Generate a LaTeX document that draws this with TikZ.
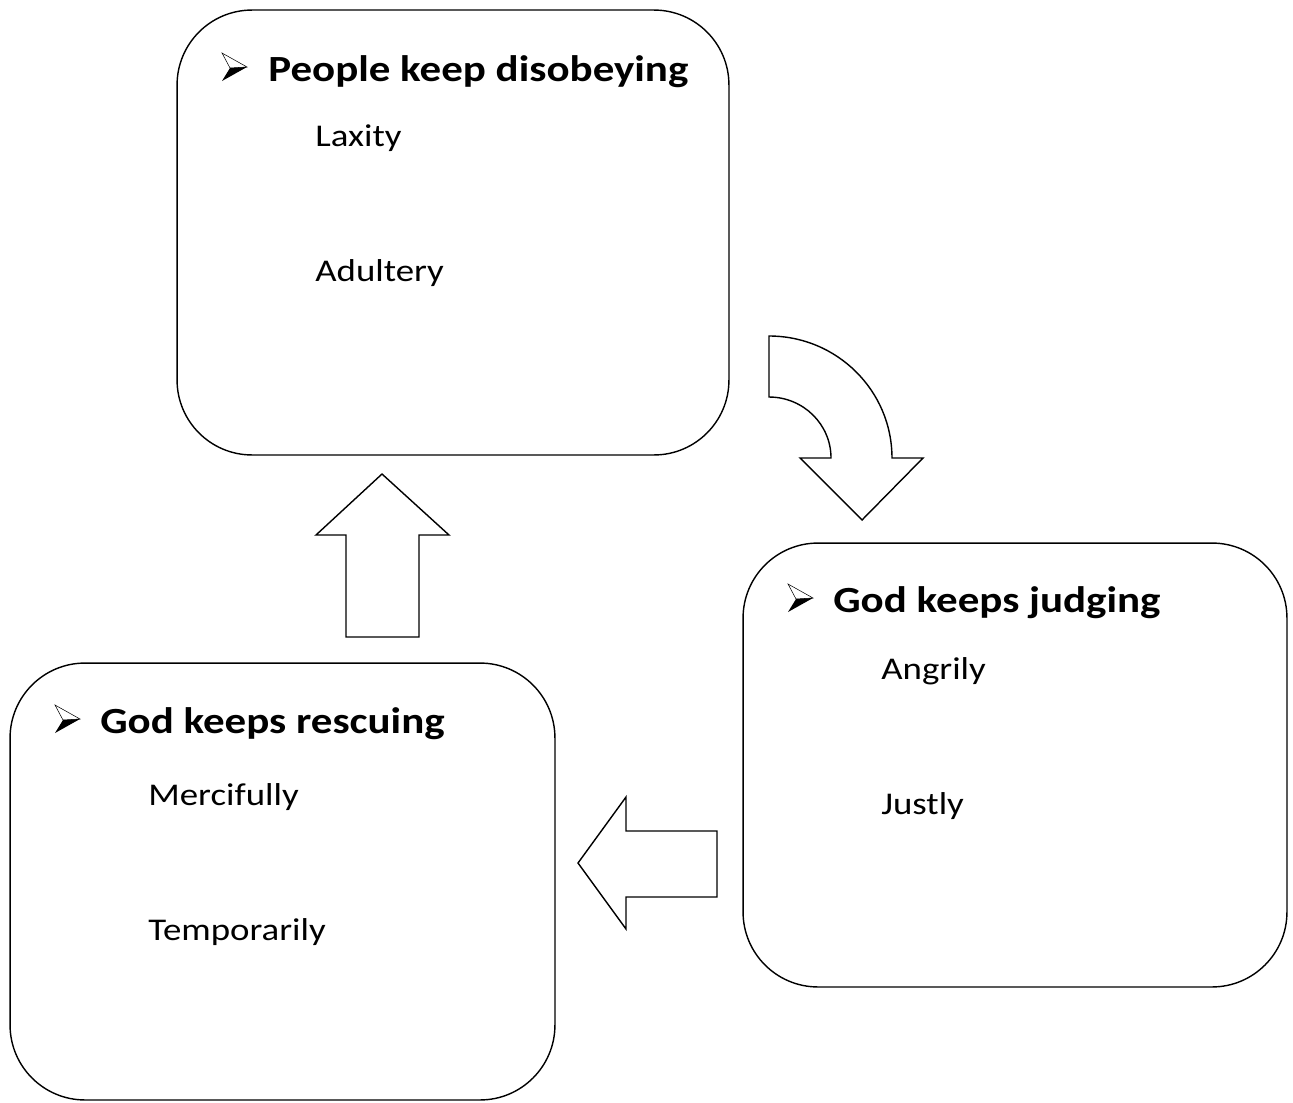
\documentclass[tikz,border=0pt]{standalone}
\usepackage{fontspec}
\setmainfont{Carlito}
\usepackage{graphicx}
\usetikzlibrary{positioning,calc}

% the text in the picture is set a bit wider than normal
\newcommand{\wtext}[1]{\scalebox{1.165}[1]{#1}}

\begin{document}
\begin{tikzpicture}[
    x=0.02cm, y=-0.02cm,
    box/.style={draw, line width=0.8pt, rounded corners=1.5cm, inner sep=0pt},
    head/.style={anchor=base west, inner sep=0pt, font=\fontsize{21}{25}\selectfont\bfseries},
    item/.style={anchor=base west, inner sep=0pt, font=\fontsize{18}{22}\selectfont},
    blockarrow/.style={draw, line width=0.8pt, fill=white, line join=miter},
    pics/arrowbullet/.style={code={
        \draw[line width=0.3pt, line join=miter] (0,0) -- (25,14) -- (8,15) -- cycle;
        \fill (8,15) -- (25,14) -- (0,28) -- cycle;
    }}
]
\useasboundingbox (0,0) rectangle (1293,1102);

% the three boxes of the cycle
\node[box, minimum width=11.04cm, minimum height=8.9cm] (people) at (453,232.5) {};
\node[box, minimum width=10.88cm, minimum height=8.88cm] (judge) at (1015,765) {};
\node[box, minimum width=10.9cm, minimum height=8.74cm] (rescue) at (282.5,881.5) {};

% headings
\node[head] (disobey) at (268,81) {\wtext{People keep disobeying}};
\node[head] (judging) at (833,612) {\wtext{God keeps judging}};
\node[head] (rescuing) at (100,733) {\wtext{God keeps rescuing}};
\pic at ($(disobey.base west)+(-46,-28)$) {arrowbullet};
\pic at ($(judging.base west)+(-45,-28)$) {arrowbullet};
\pic at ($(rescuing.base west)+(-45,-28)$) {arrowbullet};

% sub items
\node[item] (laxity) at (315,146) {\wtext{Laxity}};
\node[item] (adultery) at (315,281) {\wtext{Adultery}};
\node[item] (angrily) at (881,679) {\wtext{Angrily}};
\node[item] (justly) at (881,814) {\wtext{Justly}};
\node[item] (mercy) at (148,805) {\wtext{Mercifully}};
\node[item] (temp) at (148,940) {\wtext{Temporarily}};

% block arrows
\draw[blockarrow] (769,336) arc[start angle=90, end angle=0, x radius=2.46cm, y radius=2.44cm]
    -- (923,458) -- (862,520) -- (800,458) -- (831,458)
    arc[start angle=0, end angle=90, x radius=1.24cm, y radius=1.22cm] -- cycle;
\draw[blockarrow] (717,831) -- (626,831) -- (626,797) -- (578,863) -- (626,929) -- (626,897) -- (717,897) -- cycle;
\draw[blockarrow] (346,637) -- (346,535) -- (316,535) -- (382,474) -- (449,535) -- (419,535) -- (419,637) -- cycle;
\end{tikzpicture}
\end{document}
